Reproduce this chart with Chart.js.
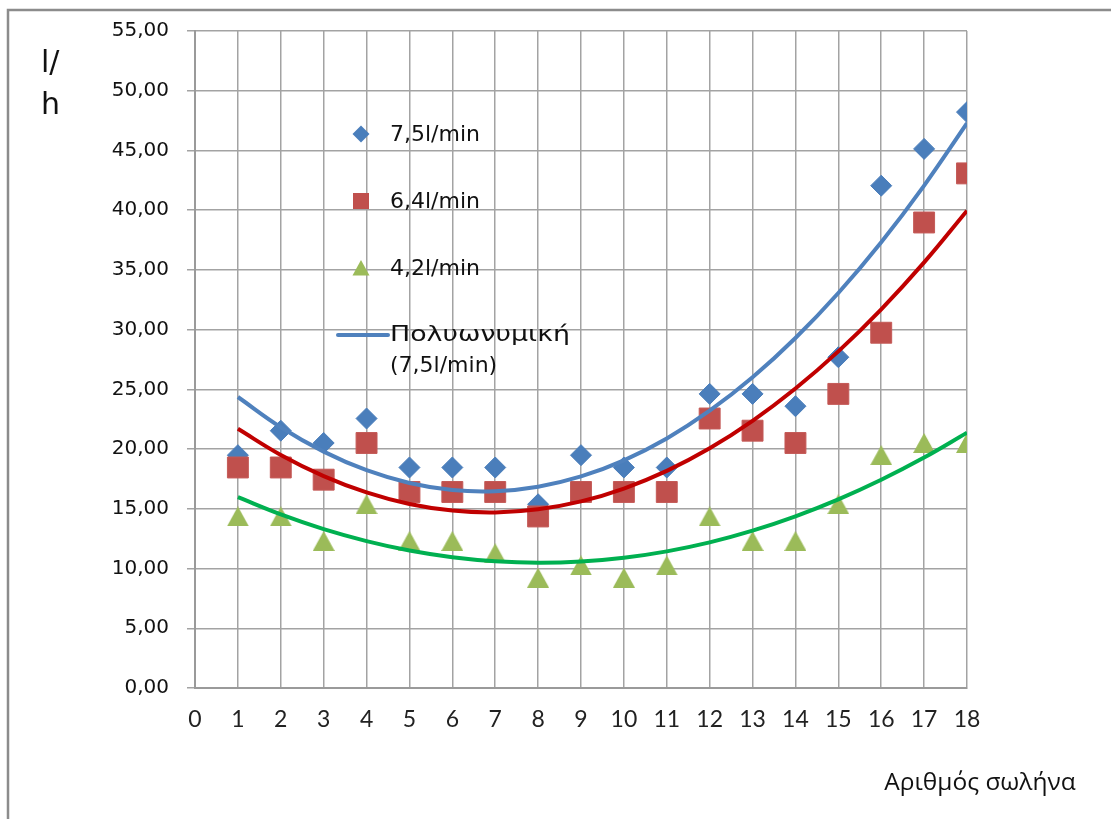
<!DOCTYPE html>
<html>
<head>
<meta charset="utf-8">
<script src="https://cdn.jsdelivr.net/npm/chart.js@4.4.1/dist/chart.umd.min.js"></script>
<style>
  html, body { margin: 0; padding: 0; background: #fff; }
  #wrap { width: 1111px; height: 819px; position: relative; }
</style>
</head>
<body>
<div id="wrap"><canvas id="chart" width="1111" height="819"></canvas></div>
<script>
// Tube number on the x axis
const tubes = [1, 2, 3, 4, 5, 6, 7, 8, 9, 10, 11, 12, 13, 14, 15, 16, 17, 18];

// Measured flow per tube (l/h) for each supply rate
const flow75 = [19.49, 21.54, 20.51, 22.56, 18.46, 18.46, 18.46, 15.38, 19.49, 18.46, 18.46, 24.62, 24.62, 23.59, 27.69, 42.05, 45.13, 48.21];
const flow64 = [18.46, 18.46, 17.44, 20.51, 16.41, 16.41, 16.41, 14.36, 16.41, 16.41, 16.41, 22.56, 21.54, 20.51, 24.62, 29.74, 38.97, 43.08];
const flow42 = [14.36, 14.36, 12.31, 15.38, 12.31, 12.31, 11.28, 9.23, 10.26, 9.23, 10.26, 14.36, 12.31, 12.31, 15.38, 19.49, 20.51, 20.51];

// Polynomial trend curves, one value per tube
const trend75 = [24.36, 21.83, 19.79, 18.23, 17.16, 16.57, 16.47, 16.85, 17.71, 19.06, 20.89, 23.21, 26.01, 29.30, 33.07, 37.32, 42.06, 47.28];
const trend64 = [21.70, 19.51, 17.74, 16.37, 15.40, 14.85, 14.70, 14.96, 15.62, 16.70, 18.18, 20.07, 22.37, 25.07, 28.18, 31.70, 35.63, 39.96];
const trend42 = [15.97, 14.53, 13.30, 12.30, 11.51, 10.95, 10.61, 10.48, 10.58, 10.90, 11.44, 12.19, 13.17, 14.37, 15.79, 17.43, 19.29, 21.37];

// Axis ranges and labels
const xTicks = { min: 0, max: 18, step: 1 };
const yTicks = { min: 0, max: 55, step: 5 };
const seriesNames = ['7,5l/min', '6,4l/min', '4,2l/min'];
const trendNames = ['Πολυωνυμική (7,5l/min)', 'Πολυωνυμική (6,4l/min)', 'Πολυωνυμική (4,2l/min)'];
const trendLegendLines = ['Πολυωνυμική', '(7,5l/min)'];
const yTitleLines = ['l/', 'h'];
const xTitle = 'Αριθμός σωλήνα';

const BLUE = '#4a7ebb', RED = '#c0504d', GREEN = '#9bbb59';
const BLUE_LINE = '#4f81bd', RED_LINE = '#c00000', GREEN_LINE = '#00b050';

const pts = (xs, ys) => xs.map((x, i) => ({ x: x, y: ys[i] }));

// Upward triangle marker whose box is centred on the data point
function triangleMarker(w, h, fill) {
  const c = document.createElement('canvas');
  c.width = w; c.height = h;
  const g = c.getContext('2d');
  g.beginPath();
  g.moveTo(w / 2, 0);
  g.lineTo(w, h);
  g.lineTo(0, h);
  g.closePath();
  g.fillStyle = fill;
  g.fill();
  return c;
}
const triangleImg = triangleMarker(22, 20, GREEN);

// Grey frame around the whole chart
const framePlugin = {
  id: 'frame',
  beforeDraw(chart) {
    const ctx = chart.ctx;
    ctx.save();
    ctx.fillStyle = '#ffffff';
    ctx.fillRect(0, 0, chart.width, chart.height);
    ctx.strokeStyle = '#8c8c8c';
    ctx.lineWidth = 2.5;
    ctx.strokeRect(8, 10, chart.width + 40, chart.height + 40);
    ctx.restore();
  }
};

// Axis titles and the in-plot legend
const textPlugin = {
  id: 'texts',
  afterDraw(chart) {
    const ctx = chart.ctx;
    ctx.save();
    ctx.fillStyle = '#111';
    ctx.textAlign = 'left';
    ctx.textBaseline = 'alphabetic';
    ctx.font = '30px "DejaVu Sans"';
    ctx.fillText(yTitleLines[0], 41, 72);
    ctx.fillText(yTitleLines[1], 41, 114);

    ctx.font = '24.5px "Open Sans"';
    ctx.textAlign = 'center';
    ctx.textBaseline = 'middle';
    ctx.fillText(xTitle, 980, 783);

    // legend
    const mx = 361, tx = 390;
    const rows = [134, 201, 268];
    ctx.font = '22px "DejaVu Sans"';
    ctx.textAlign = 'left';
    ctx.textBaseline = 'middle';

    // diamond
    ctx.fillStyle = BLUE;
    ctx.beginPath();
    ctx.moveTo(mx, rows[0] - 8.5); ctx.lineTo(mx + 8.5, rows[0]);
    ctx.lineTo(mx, rows[0] + 8.5); ctx.lineTo(mx - 8.5, rows[0]);
    ctx.closePath(); ctx.fill();
    // square
    ctx.fillStyle = RED;
    ctx.fillRect(mx - 8, rows[1] - 8, 16, 16);
    // triangle
    ctx.fillStyle = GREEN;
    ctx.beginPath();
    ctx.moveTo(mx, rows[2] - 8); ctx.lineTo(mx + 8.5, rows[2] + 7.5); ctx.lineTo(mx - 8.5, rows[2] + 7.5);
    ctx.closePath(); ctx.fill();
    // trend line sample
    ctx.strokeStyle = BLUE_LINE;
    ctx.lineWidth = 4;
    ctx.lineCap = 'round';
    ctx.beginPath(); ctx.moveTo(338, 335); ctx.lineTo(388, 335); ctx.stroke();

    ctx.fillStyle = '#111';
    for (let i = 0; i < 3; i++) ctx.fillText(seriesNames[i], tx, rows[i] + 1);
    // the Greek legend word is set a little wider than the Latin text
    ctx.save();
    ctx.translate(tx, 335);
    ctx.scale(1.22, 1);
    ctx.fillText(trendLegendLines[0], 0, 0);
    ctx.restore();
    ctx.fillText(trendLegendLines[1], tx, 366);
    ctx.restore();
  }
};

const trendStyle = (color) => ({
  type: 'line',
  showLine: true,
  borderColor: color,
  borderWidth: 4,
  pointRadius: 0,
  pointHoverRadius: 0,
  tension: 0.4,
  fill: false
});

new Chart(document.getElementById('chart'), {
  type: 'scatter',
  data: {
    datasets: [
      Object.assign({ label: trendNames[0], data: pts(tubes, trend75), order: 1 }, trendStyle(BLUE_LINE)),
      Object.assign({ label: trendNames[1], data: pts(tubes, trend64), order: 1 }, trendStyle(RED_LINE)),
      Object.assign({ label: trendNames[2], data: pts(tubes, trend42), order: 1 }, trendStyle(GREEN_LINE)),
      { label: seriesNames[2], data: pts(tubes, flow42), order: 2, pointStyle: triangleImg, backgroundColor: GREEN, borderWidth: 0 },
      { label: seriesNames[1], data: pts(tubes, flow64), order: 3, pointStyle: 'rect', pointRadius: 14.8, backgroundColor: RED, borderColor: '#c45a57', borderWidth: 1 },
      { label: seriesNames[0], data: pts(tubes, flow75), order: 4, pointStyle: 'rectRot', pointRadius: 10.5, backgroundColor: BLUE, borderColor: BLUE, borderWidth: 1 }
    ]
  },
  options: {
    responsive: false,
    animation: false,
    events: [],
    layout: { padding: { left: 0, top: 31, right: 144, bottom: 0 } },
    plugins: { legend: { display: false }, tooltip: { enabled: false } },
    scales: {
      x: {
        type: 'linear',
        min: xTicks.min, max: xTicks.max,
        afterFit(s) { s.height = 131; },
        border: { display: true, color: '#9a9a9a', width: 2 },
        grid: { color: '#a3a3a3', lineWidth: 1.5, drawTicks: false },
        ticks: {
          stepSize: xTicks.step,
          padding: 18,
          color: '#222',
          font: { family: 'Lato', size: 23 },
          maxRotation: 0,
          autoSkip: false
        }
      },
      y: {
        min: yTicks.min, max: yTicks.max,
        afterFit(s) { s.width = 195; },
        border: { display: true, color: '#9a9a9a', width: 2 },
        grid: { color: '#a3a3a3', lineWidth: 1.5, tickLength: 8 },
        ticks: {
          stepSize: yTicks.step,
          padding: 18,
          color: '#111',
          font: { family: 'DejaVu Sans', size: 20 },
          callback: (v) => v.toFixed(2).replace('.', ',')
        }
      }
    }
  },
  plugins: [framePlugin, textPlugin]
});
</script>
</body>
</html>
